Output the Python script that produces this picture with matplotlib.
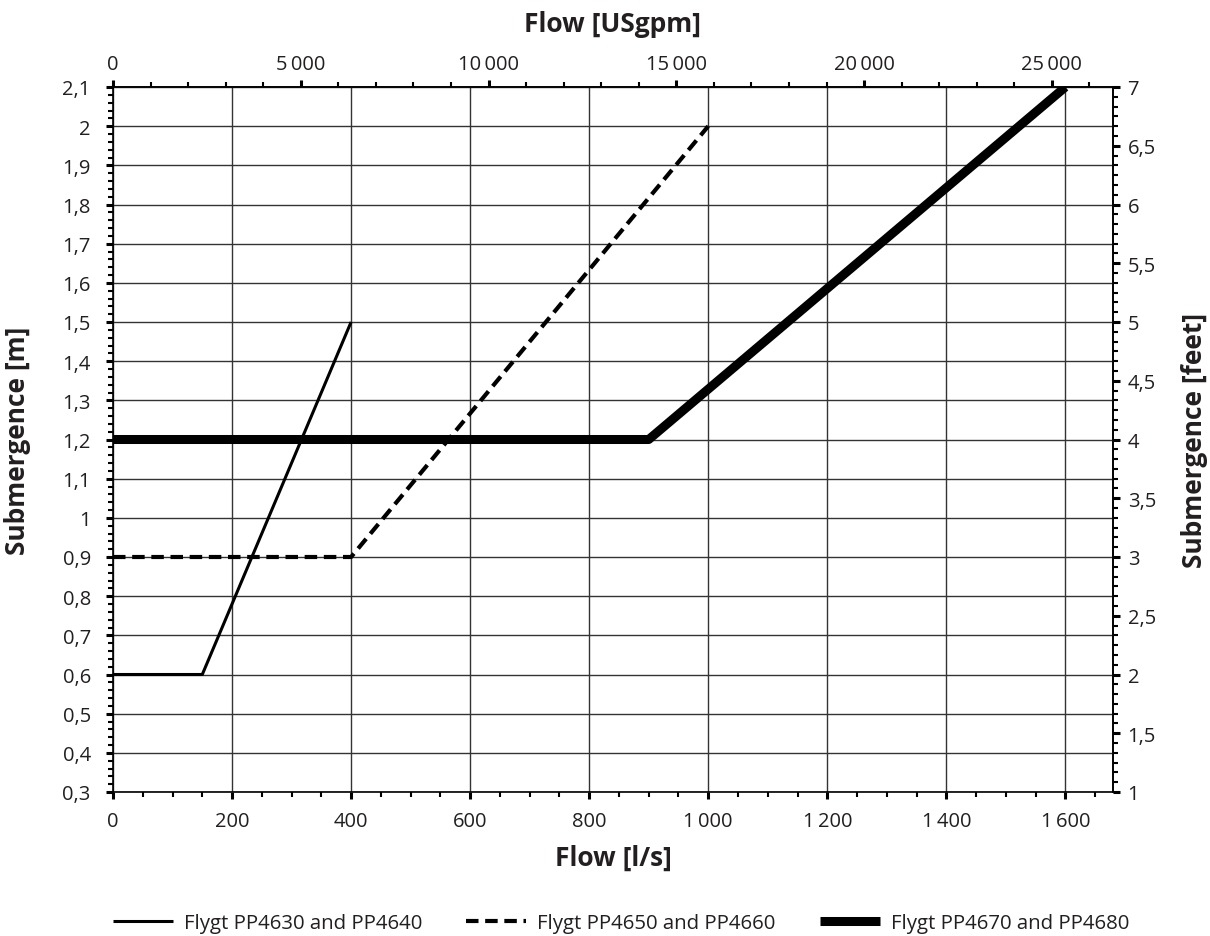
import matplotlib
matplotlib.use("Agg")
import matplotlib.pyplot as plt
from matplotlib.ticker import MultipleLocator, FuncFormatter, FixedLocator

plt.rcParams['font.family'] = ['Open Sans', 'DejaVu Sans']

# Data (flow in l/s, submergence in m)
s1_name = "Flygt PP4630 and PP4640"
s1_flow = [0, 150, 400]
s1_sub = [0.6, 0.6, 1.5]

s2_name = "Flygt PP4650 and PP4660"
s2_flow = [0, 400, 1000]
s2_sub = [0.9, 0.9, 2.0]

s3_name = "Flygt PP4670 and PP4680"
s3_flow = [0, 900, 1600]
s3_sub = [1.2, 1.2, 2.1]

top_ticks = [0, 5000, 10000, 15000, 20000, 25000]

LPS_TO_GPM = 15.850
M_TO_FT = 1 / 0.3

txt = '#231f20'

def fmt_num(v, pos=None):
    n = int(round(v))
    return f"{n:,}".replace(",", "\u2009")

def fmt_dec(v, pos=None):
    if abs(v - round(v)) < 1e-9:
        return str(int(round(v)))
    s = f"{v:.2f}".rstrip('0').rstrip('.')
    return s.replace(".", ",")

fig = plt.figure(figsize=(12.1, 9.37), dpi=100)
ax = fig.add_axes([113/1210, 1-793/937, 1000/1210, 705/937])

ax.plot(s1_flow, s1_sub, color='black', lw=2.2, solid_capstyle='butt', label=s1_name, zorder=3)
ax.plot(s2_flow, s2_sub, color='black', lw=3.0, ls=(0, (3, 1.6)), dash_capstyle='butt', label=s2_name, zorder=3)
ax.plot(s3_flow, s3_sub, color='black', lw=6.5, solid_capstyle='butt', label=s3_name, zorder=3)

ax.set_xlim(0, 1680)
ax.set_ylim(0.3, 2.1)

ax.xaxis.set_major_locator(MultipleLocator(200))
ax.xaxis.set_minor_locator(MultipleLocator(50))
ax.yaxis.set_major_locator(MultipleLocator(0.1))
ax.yaxis.set_minor_locator(MultipleLocator(0.02))
ax.xaxis.set_major_formatter(FuncFormatter(fmt_num))
ax.yaxis.set_major_formatter(FuncFormatter(fmt_dec))

ax.grid(True, which='major', color='#333333', lw=1.0)
ax.set_axisbelow(True)

for sp in ax.spines.values():
    sp.set_linewidth(1.2)
    sp.set_color('black')

LS = 14.5
AL = 19
ax.tick_params(which='major', direction='out', length=5, width=2.2, labelsize=LS, colors='black', labelcolor=txt)
ax.tick_params(which='minor', direction='out', length=3.5, width=1.5, colors='black')
ax.tick_params(axis='x', which='major', pad=9)
ax.tick_params(axis='y', which='major', pad=11)

ax.set_xlabel("Flow [l/s]", fontsize=AL, fontweight='bold', color=txt)
ax.xaxis.set_label_coords(0.5, (793 - 858) / 705, transform=ax.transAxes)
ax.xaxis.label.set_va('center')
ax.set_ylabel("Submergence [m]", fontsize=AL, fontweight='bold', color=txt)
ax.yaxis.set_label_coords((18 - 113) / 1000, 0.5, transform=ax.transAxes)
ax.yaxis.label.set_va('center')

# top axis
top = ax.secondary_xaxis('top', functions=(lambda x: x * LPS_TO_GPM, lambda g: g / LPS_TO_GPM))
top.xaxis.set_major_locator(FixedLocator(top_ticks))
top.xaxis.set_minor_locator(FixedLocator([v for v in range(0, 27000, 1000) if v % 5000]))
top.xaxis.set_major_formatter(FuncFormatter(fmt_num))
top.tick_params(which='major', direction='out', length=5, width=2.2, labelsize=LS, labelcolor=txt, pad=4)
top.tick_params(which='minor', direction='out', length=3.5, width=1.5)
top.set_xlabel("Flow [USgpm]", fontsize=AL, fontweight='bold', color=txt)
top.xaxis.set_label_coords(0.5, (793 - 25) / 705, transform=ax.transAxes)
top.xaxis.label.set_va('center')
top.spines['top'].set_linewidth(1.2)

# right axis
right = ax.secondary_yaxis('right', functions=(lambda m: m * M_TO_FT, lambda f: f / M_TO_FT))
right.yaxis.set_major_locator(MultipleLocator(0.5))
right.yaxis.set_minor_locator(MultipleLocator(1/12))
right.yaxis.set_major_formatter(FuncFormatter(fmt_dec))
right.tick_params(which='major', direction='out', length=5, width=2.2, labelsize=LS, labelcolor=txt, pad=5.5)
right.tick_params(which='minor', direction='out', length=3.5, width=1.5)
right.set_ylabel("Submergence [feet]", fontsize=AL, fontweight='bold', color=txt)
right.yaxis.set_label_coords((1195 - 113) / 1000, 0.5, transform=ax.transAxes)
right.yaxis.label.set_va('center')
right.spines['right'].set_linewidth(1.2)

handles, labels = ax.get_legend_handles_labels()
leg = fig.legend(handles, labels, loc='center left', bbox_to_anchor=(113 / 1210, 1 - 924 / 937), ncol=3,
                 frameon=False, fontsize=14.7, handlelength=2.94, handletextpad=0.54, columnspacing=2.15,
                 borderpad=0, borderaxespad=0)
for t in leg.get_texts():
    t.set_color(txt)

fig.savefig("out.png", dpi=100)
